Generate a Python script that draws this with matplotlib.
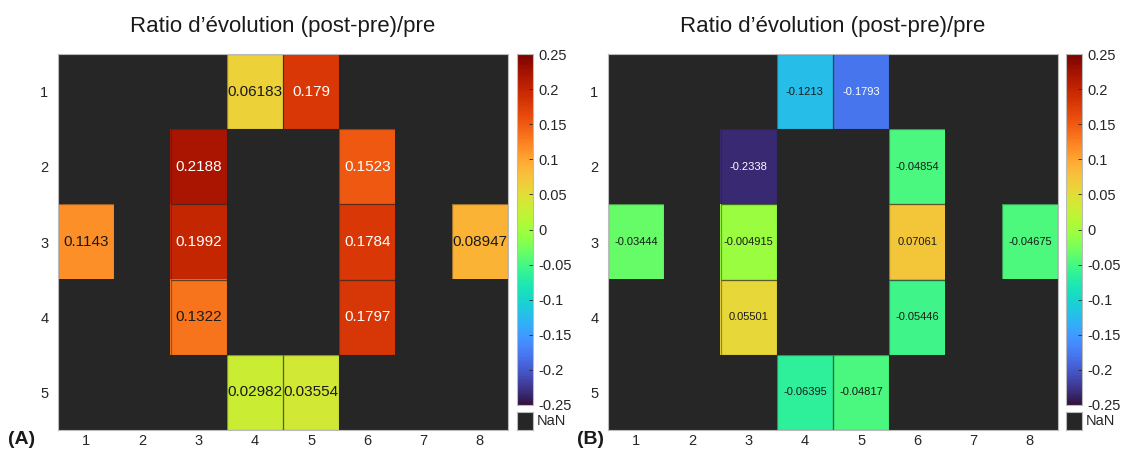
import numpy as np
import matplotlib
matplotlib.use('Agg')
import matplotlib.pyplot as plt
from matplotlib.patches import Rectangle

plt.rcParams['font.family'] = ['Liberation Sans', 'DejaVu Sans']

# rows 1..5, cols 1..8 (NaN = no data)
n = np.nan
ratio_A = [
    [n, n, n, 0.06183, 0.179, n, n, n],
    [n, n, 0.2188, n, n, 0.1523, n, n],
    [0.1143, n, 0.1992, n, n, 0.1784, n, 0.08947],
    [n, n, 0.1322, n, n, 0.1797, n, n],
    [n, n, n, 0.02982, 0.03554, n, n, n],
]
ratio_B = [
    [n, n, n, -0.1213, -0.1793, n, n, n],
    [n, n, -0.2338, n, n, -0.04854, n, n],
    [-0.03444, n, -0.004915, n, n, 0.07061, n, -0.04675],
    [n, n, 0.05501, n, n, -0.05446, n, n],
    [n, n, n, -0.06395, -0.04817, n, n, n],
]
col_labels = ['1', '2', '3', '4', '5', '6', '7', '8']
row_labels = ['1', '2', '3', '4', '5']
cbar_ticks = [-0.25, -0.2, -0.15, -0.1, -0.05, 0, 0.05, 0.1, 0.15, 0.2, 0.25]
cbar_ticklabels = ['-0.25', '-0.2', '-0.15', '-0.1', '-0.05', '0', '0.05', '0.1', '0.15', '0.2', '0.25']

title = 'Ratio d\u2019évolution (post-pre)/pre'
nan_color = '#262626'
vmin, vmax = -0.25, 0.25
cmap = plt.get_cmap('turbo').copy()
cmap.set_bad((0, 0, 0, 0))
norm = matplotlib.colors.Normalize(vmin, vmax)

W, H = 1126, 459
fig = plt.figure(figsize=(W / 100, H / 100), dpi=100)


def px(x0, y0, x1, y1):
    return [x0 / W, 1 - y1 / H, (x1 - x0) / W, (y1 - y0) / H]


def heat(data, ax_box, cb_box, nan_box, fs, panel, panel_x):
    data = np.array(data, dtype=float)
    ax = fig.add_axes(px(*ax_box))
    ax.set_facecolor(nan_color)
    ax.imshow(np.ma.masked_invalid(data), cmap=cmap, norm=norm, aspect='auto',
              extent=(0.5, 8.5, 5.5, 0.5), interpolation='nearest')
    ax.set_xlim(0.5, 8.5)
    ax.set_ylim(5.5, 0.5)
    ax.set_xticks(range(1, 9))
    ax.set_xticklabels(col_labels)
    ax.set_yticks(range(1, 6))
    ax.set_yticklabels(row_labels)
    ax.tick_params(length=0, labelsize=10.5, colors='#262626')
    ax.tick_params(axis='x', pad=3)
    ax.tick_params(axis='y', pad=7)
    for s in ax.spines.values():
        s.set_color('#bbbbbb')
        s.set_linewidth(0.8)
    for i in range(5):
        for j in range(8):
            v = data[i, j]
            if np.isnan(v):
                continue
            ax.add_patch(Rectangle((j + 0.5, i + 0.5), 1, 1, fill=False,
                                   edgecolor=(0.15, 0.15, 0.15, 0.45), linewidth=0.9))
            r, g, b, _ = cmap(norm(v))
            lum = 0.299 * r + 0.587 * g + 0.114 * b
            tc = 'white' if lum < 0.5 else '#1a1a1a'
            ax.text(j + 1, i + 1, '%.4g' % v, ha='center', va='center', fontsize=fs, color=tc)
    ax.set_title(title, fontsize=16, pad=16, color='#1a1a1a')

    cax = fig.add_axes(px(*cb_box))
    cb = fig.colorbar(matplotlib.cm.ScalarMappable(norm=norm, cmap=cmap), cax=cax)
    cb.set_ticks(cbar_ticks)
    cb.set_ticklabels(cbar_ticklabels)
    cb.outline.set_edgecolor('#bbbbbb')
    cb.outline.set_linewidth(0.8)
    cax.tick_params(direction='in', length=3, width=0.6, labelsize=10.5, colors='#262626', pad=4)

    nax = fig.add_axes(px(*nan_box))
    nax.set_facecolor(nan_color)
    nax.set_xticks([])
    nax.set_yticks([])
    for s in nax.spines.values():
        s.set_color('#bbbbbb')
        s.set_linewidth(0.8)
    nax.text(1.25, 0.5, 'NaN', transform=nax.transAxes, ha='left', va='center',
             fontsize=10.5, color='#262626')

    fig.text(panel_x / W, 1 - 440 / H, panel, fontsize=14, fontweight='bold',
             ha='left', va='center', color='#1a1a1a')
    return ax


heat(ratio_A, (58, 54, 508, 430), (517, 54, 533, 405), (517, 412, 533, 430), 11, '(A)', 8)
heat(ratio_B, (608, 54, 1058, 430), (1066, 54, 1082, 405), (1066, 412, 1082, 430), 8, '(B)', 577)

fig.savefig('out.png', dpi=100)
